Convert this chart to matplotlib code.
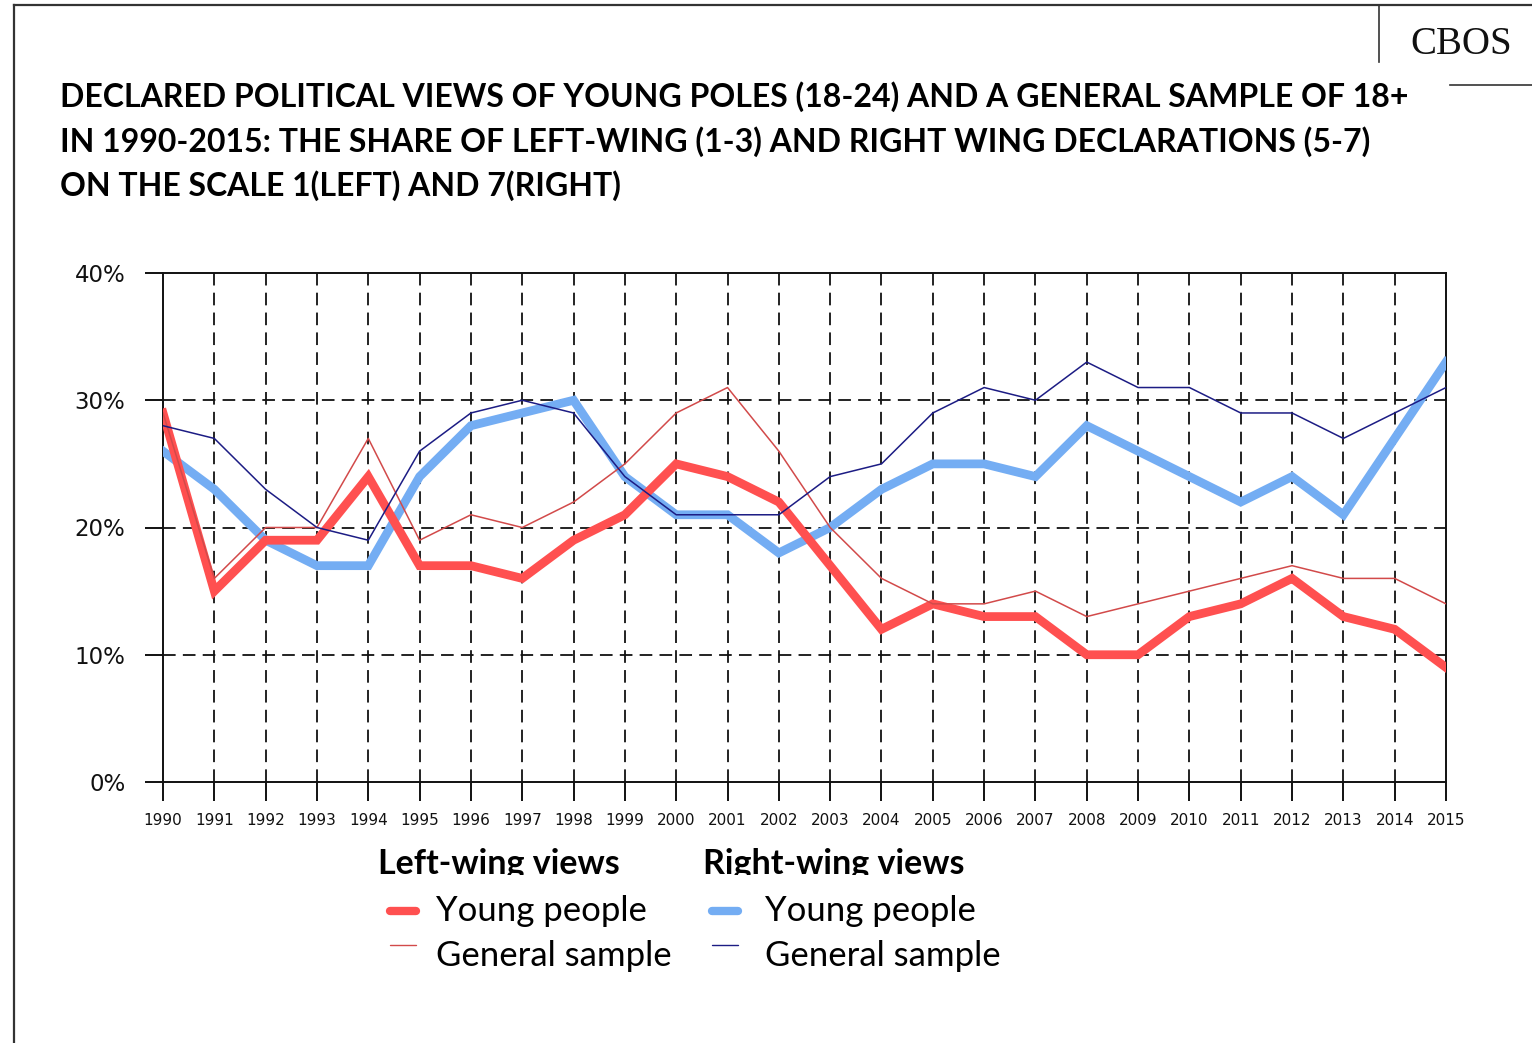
import matplotlib.pyplot as plt
from matplotlib.lines import Line2D
from matplotlib.patches import Rectangle

W, H = 1532, 1043

years = list(range(1990, 2016))
left_young = [29, 15, 19, 19, 24, 17, 17, 16, 19, 21, 25, 24, 22, 17, 12, 14,
              13, 13, 10, 10, 13, 14, 16, 13, 12, 9]
left_general = [29, 16, 20, 20, 27, 19, 21, 20, 22, 25, 29, 31, 26, 20, 16, 14,
                14, 15, 13, 14, 15, 16, 17, 16, 16, 14]
right_young = [26, 23, 19, 17, 17, 24, 28, 29, 30, 24, 21, 21, 18, 20, 23, 25,
               25, 24, 28, 26, 24, 22, 24, 21, 27, 33]
right_general = [28, 27, 23, 20, 19, 26, 29, 30, 29, 24, 21, 21, 21, 24, 25, 29,
                 31, 30, 33, 31, 31, 29, 29, 27, 29, 31]
y_ticks = [0, 10, 20, 30, 40]
y_labels = ['0%', '10%', '20%', '30%', '40%']

RED = '#ff5050'
RED_THIN = '#d24a4a'
BLUE = '#74adf3'
NAVY = '#1c1c84'

title = ('DECLARED POLITICAL VIEWS OF YOUNG POLES (18-24) AND A GENERAL SAMPLE OF 18+\n'
         'IN 1990-2015: THE SHARE OF LEFT-WING (1-3) AND RIGHT WING DECLARATIONS (5-7)\n'
         'ON THE SCALE 1(LEFT) AND 7(RIGHT)')


def fx(px):
    return px / W


def fy(py):
    return 1 - py / H


fig = plt.figure(figsize=(W / 100, H / 100), dpi=100)
ax = fig.add_axes([fx(163), fy(782), fx(1446) - fx(163), fy(273) - fy(782)])

# thick series first, thin general-sample lines on top
ax.plot(years, right_young, color=BLUE, lw=6.3, solid_joinstyle='miter', zorder=3)
ax.plot(years, left_young, color=RED, lw=6.3, solid_joinstyle='miter', zorder=4)
ax.plot(years, left_general, color=RED_THIN, lw=1.1, zorder=5)
ax.plot(years, right_general, color=NAVY, lw=1.1, zorder=5)

ax.set_xlim(1990, 2015)
ax.set_ylim(0, 40)
ax.set_xticks(years)
ax.set_xticklabels([str(y) for y in years])
ax.set_yticks(y_ticks)
ax.set_yticklabels(y_labels)

dash = (0, (7, 4))
for v in [10, 20, 30]:
    ax.axhline(v, color='#111111', lw=1.3, ls=dash, zorder=2)
for y in years[1:-1]:
    ax.axvline(y, color='#111111', lw=1.3, ls=dash, zorder=2)

for s in ax.spines.values():
    s.set_color('#111111')
    s.set_linewidth(1.4)
ax.tick_params(axis='y', direction='out', length=13, width=1.4, pad=14,
               labelsize=16.5, colors='#111111')
ax.tick_params(axis='x', direction='out', length=14, width=1.4, pad=8,
               labelsize=11, colors='#111111')

# page frame
fig.add_artist(Line2D([fx(14), 1], [fy(5), fy(5)], color='#333333', lw=1.6))
fig.add_artist(Line2D([fx(14), fx(14)], [fy(5), 0], color='#333333', lw=1.6))
fig.add_artist(Line2D([fx(1379), fx(1379)], [fy(5), fy(62)], color='#333333', lw=1.2))
fig.add_artist(Line2D([fx(1450), 1], [fy(85), fy(85)], color='#333333', lw=1.2))
fig.text(fx(1461), fy(44), 'CBOS', family='Liberation Serif', fontsize=28,
         ha='center', va='center', color='#111111')

fig.text(fx(60), fy(81), title, family='Lato', weight='bold', fontsize=23,
         ha='left', va='top', linespacing=1.55, color='black')

# legend block; headings are cut just under the baseline
clip = Rectangle((0, fy(875)), 1, 1, transform=fig.transFigure, visible=False)
fig.add_artist(clip)
for x0, head in [(378, 'Left-wing views'), (703, 'Right-wing views')]:
    t = fig.text(fx(x0), fy(864), head, family='Lato', weight='bold',
                 fontsize=24.5, ha='left', va='center')
    t.set_clip_path(clip)

entries = [(390, 436, 911, 'Young people', RED, 6),
           (390, 436, 956, 'General sample', RED_THIN, 1),
           (712, 765, 911, 'Young people', BLUE, 6),
           (712, 765, 956, 'General sample', NAVY, 1)]
for lx, tx, py, label, col, lw in entries:
    ly = py if lw > 1 else py - 11
    fig.add_artist(Line2D([fx(lx), fx(lx + 26)], [fy(ly), fy(ly)], color=col,
                          lw=lw, solid_capstyle='round'))
    fig.text(fx(tx), fy(py), label, family='Lato', fontsize=25,
             ha='left', va='center')

fig.savefig('out.png', dpi=100)
